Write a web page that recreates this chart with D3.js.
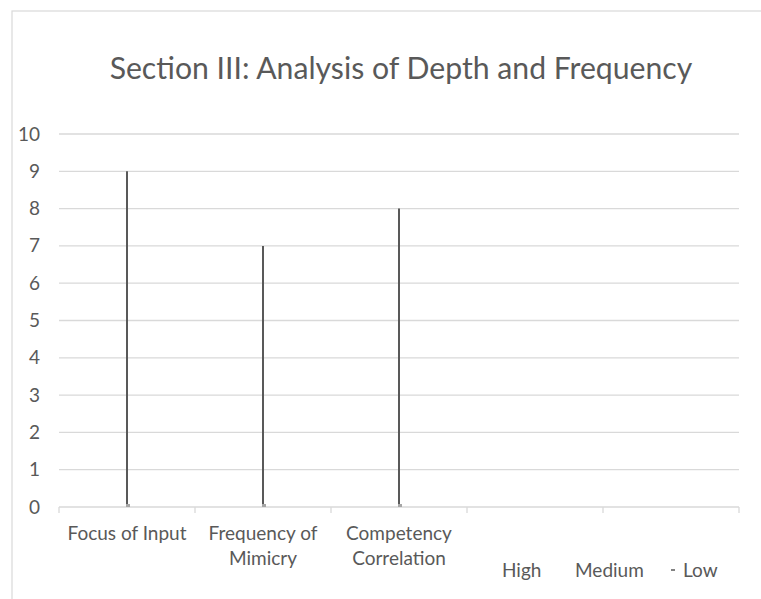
<!DOCTYPE html>
<html><head><meta charset="utf-8">
<script src="https://cdn.jsdelivr.net/npm/d3@7"></script>
<style>body{margin:0;background:#fff;} text{font-family:Lato, "Open Sans", sans-serif;}</style>
</head><body>
<svg id="c" width="761" height="599"></svg>
<script>
const categories = [["Focus of Input"], ["Frequency of", "Mimicry"], ["Competency", "Correlation"], [""], [""]];
const highValues = [9, 7, 8, null, null];
const mediumValues = [null, null, null, null, null];
const lowValues = [0, 0, 0, null, null];
const yTicks = [0,1,2,3,4,5,6,7,8,9,10];
const legendLabels = ["High", "Medium", "Low"];
const titleText = "Section III: Analysis of Depth and Frequency";

(function(){
const svg = d3.select("#c");
svg.append("rect").attr("x",12).attr("y",11).attr("width",800).attr("height",620)
  .attr("fill","#fff").attr("stroke","#d9d9d9").attr("stroke-width",1.2);

const pL=59, pR=739, pT=134, pB=507;
const x = d3.scaleBand().domain(d3.range(categories.length)).range([pL,pR]).paddingInner(0).paddingOuter(0);
const y = d3.scaleLinear().domain([0,10]).range([pB,pT]);

svg.append("text").attr("x",(pL+pR)/2+2).attr("y",79).attr("text-anchor","middle")
  .attr("font-size",30.2).attr("fill","#595959").text(titleText);

svg.append("g").selectAll("line").data(yTicks.filter(d=>d>0)).join("line")
  .attr("x1",pL).attr("x2",pR).attr("y1",d=>y(d)).attr("y2",d=>y(d))
  .attr("stroke","#d9d9d9").attr("stroke-width",1.3);

svg.append("g").selectAll("text").data(yTicks).join("text")
  .attr("x",40).attr("y",d=>y(d)+6.5).attr("text-anchor","end")
  .attr("font-size",19).attr("fill","#595959").text(d=>d);

svg.append("line").attr("x1",pL).attr("x2",pR).attr("y1",pB).attr("y2",pB)
  .attr("stroke","#d9d9d9").attr("stroke-width",1.3);
const tickXs = d3.range(categories.length+1).map(i=> i<categories.length ? x(i) : x(i-1)+x.bandwidth());
svg.append("g").selectAll("line").data(tickXs).join("line")
  .attr("x1",d=>d).attr("x2",d=>d).attr("y1",pB).attr("y2",pB+6)
  .attr("stroke","#d9d9d9").attr("stroke-width",1.3);

const xl = svg.append("g").selectAll("text").data(categories).join("text")
  .attr("x",(d,i)=>x(i)+x.bandwidth()/2).attr("y",540).attr("text-anchor","middle")
  .attr("font-size",19).attr("fill","#595959");
xl.selectAll("tspan").data(d=>d).join("tspan")
  .attr("x",function(){return this.parentNode.getAttribute("x");})
  .attr("dy",(d,i)=>i===0?0:25).text(d=>d);

const idx = d3.range(categories.length).filter(i=>highValues[i]!=null && lowValues[i]!=null);
svg.append("g").selectAll("line").data(idx).join("line")
  .attr("x1",i=>x(i)+x.bandwidth()/2).attr("x2",i=>x(i)+x.bandwidth()/2)
  .attr("y1",i=>y(highValues[i])).attr("y2",i=>y(lowValues[i]))
  .attr("stroke","#595959").attr("stroke-width",2);
svg.append("g").selectAll("rect").data(idx).join("rect")
  .attr("x",i=>x(i)+x.bandwidth()/2-1).attr("y",i=>y(lowValues[i])-3)
  .attr("width",4).attr("height",3).attr("fill","#a6a6a6");

const legX = [502, 575, 683];
const lg = svg.append("g");
legendLabels.forEach((t,i)=>{
  lg.append("text").attr("x",legX[i]).attr("y",577).attr("font-size",19).attr("fill","#595959").text(t);
});
lg.append("line").attr("x1",671).attr("x2",675).attr("y1",570).attr("y2",570)
  .attr("stroke","#595959").attr("stroke-width",1.5);
})();
</script>
</body></html>
